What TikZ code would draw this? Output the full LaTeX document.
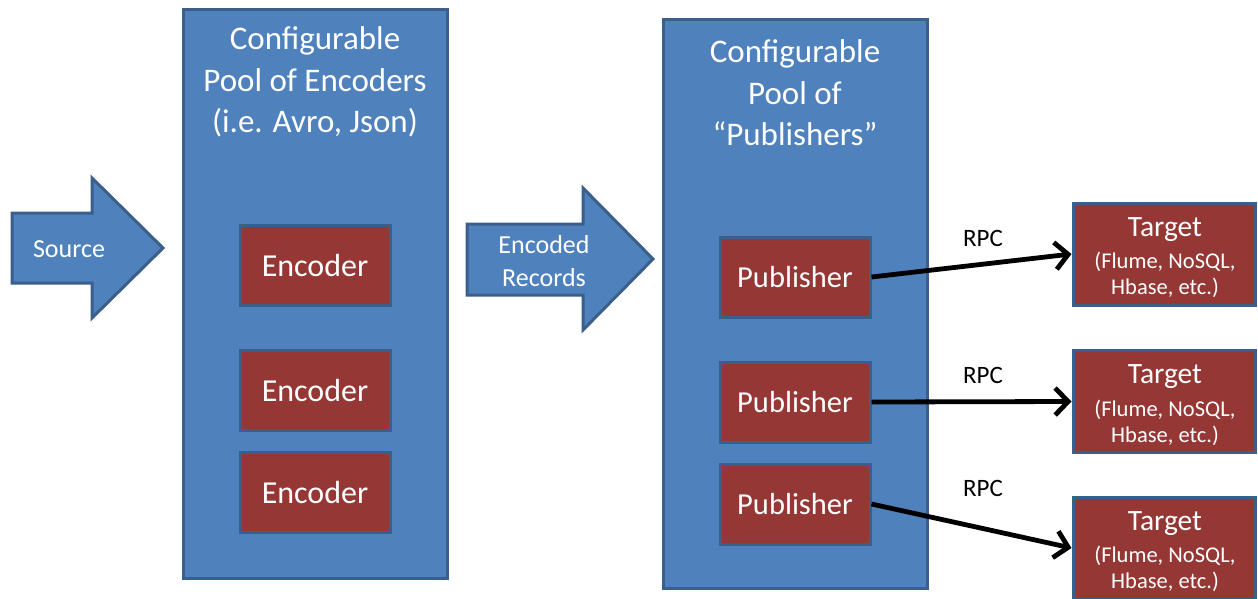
\documentclass[tikz,border=0pt]{standalone}
\usepackage{fontspec}
\setmainfont{Carlito}
\usetikzlibrary{arrows.meta}
\definecolor{poolblue}{HTML}{4F81BD}
\definecolor{edgeblue}{HTML}{3A5F8B}
\definecolor{boxred}{HTML}{953735}
\tikzset{
  pool/.style={draw=edgeblue, fill=poolblue, line width=3pt, minimum width=264pt, minimum height=569pt, inner sep=0pt},
  worker/.style={draw=edgeblue, fill=boxred, line width=3pt, minimum width=150pt, minimum height=80pt, inner sep=0pt,
    text=white, font=\fontsize{32}{36}\selectfont},
  pubworker/.style={worker, font=\fontsize{30.5}{36}\selectfont},
  targetbox/.style={draw=edgeblue, fill=boxred, line width=3pt, minimum width=182pt, minimum height=102pt, inner sep=0pt},
  pooltitle/.style={text=white, align=center, font=\fontsize{33}{41.5}\selectfont, inner sep=0pt},
  bigarrow/.style={draw=edgeblue, fill=poolblue, line width=3pt, line join=miter},
  arrowtext/.style={text=white, align=center, font=\fontsize{26}{33}\selectfont, inner sep=0pt},
  targettitle/.style={text=white, font=\fontsize{29.5}{32}\selectfont, inner sep=0pt},
  targetsub/.style={text=white, align=center, font=\fontsize{22.5}{26}\selectfont, inner sep=0pt},
  rpc/.style={line width=4.8pt, -{Straight Barb[length=13pt,width=27pt]}},
  rpclabel/.style={font=\fontsize{25}{28}\selectfont, inner sep=0pt}
}
\begin{document}
\begin{tikzpicture}[x=1pt,y=-1pt]
\useasboundingbox (0,0) rectangle (1258,598);
\clip (0,0) rectangle (1258,598);
\fill[white] (0,0) rectangle (1258,598);

% input arrow
\draw[bigarrow] (12,213) -- (92,213) -- (92,178) -- (163,248) -- (92,318) -- (92,283) -- (12,283) -- cycle;
\node[arrowtext] (source) at (69,249) {Source};

% encoder pool
\node[pool] (encpool) at (315,293.5) {};
\node[pooltitle] (enctitle) at (315,82) {Configurable\\Pool of Encoders\\(i.e. Avro, Json)};
\node[worker] (enc1) at (315,265) {Encoder};
\node[worker] (enc2) at (315,390) {Encoder};
\node[worker] (enc3) at (315,492) {Encoder};

% encoded records arrow
\draw[bigarrow] (467,224) -- (583,224) -- (583,188) -- (653,259) -- (583,330) -- (583,295) -- (467,295) -- cycle;
\node[arrowtext] (encrec) at (544,261) {Encoded\\Records};

% publisher pool
\node[pool] (pubpool) at (795,304) {};
\node[pooltitle] (pubtitle) at (795,93) {Configurable\\Pool of\\\char"201C Publishers\char"201D};
\node[pubworker] (pub1) at (795,277) {Publisher};
\node[pubworker] (pub2) at (795,402) {Publisher};
\node[pubworker] (pub3) at (795,504) {Publisher};

% targets
\foreach \i/\y in {1/254,2/401.5,3/548}{
  \node[targetbox] (tgt\i) at (1164,\y) {};
  \node[targettitle] (tgtname\i) at (1165,\y-24.5) {Target};
  \node[targetsub] (tgtsub\i) at (1165,\y+21) {(Flume, NoSQL,\\Hbase, etc.)};
}

% RPC links
\draw[rpc] (pub1.east) -- (tgt1.west);
\draw[rpc] (pub2.east) -- (tgt2.west);
\draw[rpc] (pub3.east) -- (tgt3.west);
\node[rpclabel] (rpc1) at (983,238) {RPC};
\node[rpclabel] (rpc2) at (983,375) {RPC};
\node[rpclabel] (rpc3) at (983,488) {RPC};
\end{tikzpicture}
\end{document}
